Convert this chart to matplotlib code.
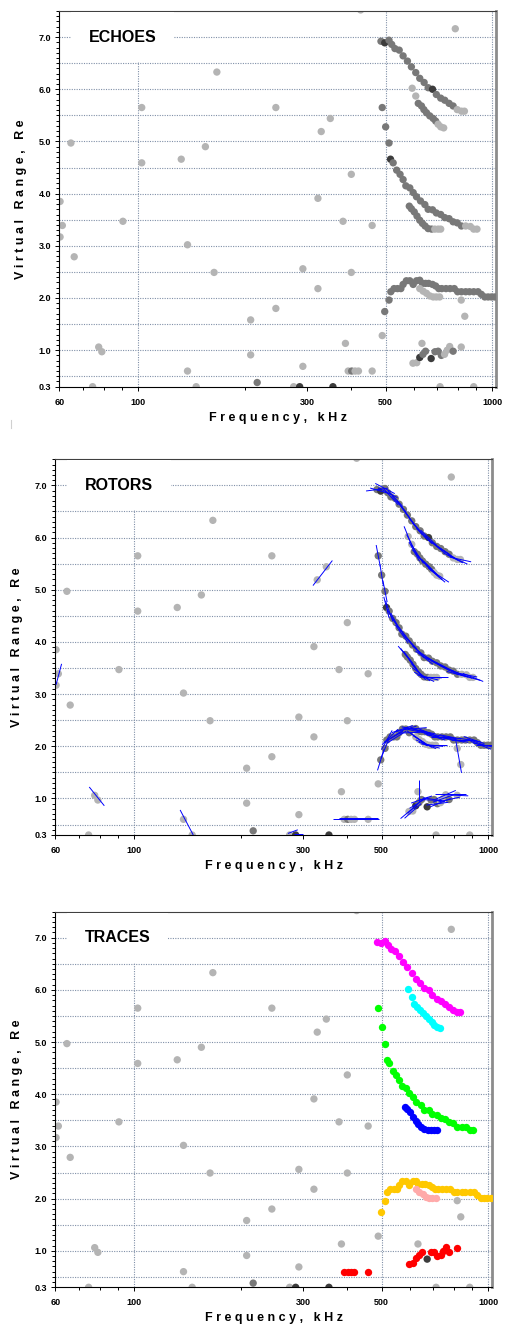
import numpy as np
import matplotlib
matplotlib.use('Agg')
import matplotlib.pyplot as plt
from matplotlib.collections import LineCollection
from matplotlib.lines import Line2D

plt.rcParams['font.family'] = ['Liberation Sans', 'DejaVu Sans']

# --- background echoes (same in every panel): frequency kHz, virtual range Re, amplitude class
bg_freq = [67.4, 102.5, 167, 102.5, 245, 349, 329, 64.7, 155, 132.5, 102.5, 400,
           60.3, 322, 90.7, 379, 458, 61.2, 60.3, 66.1, 138, 164, 292, 400, 322,
           245, 208, 489, 385, 633, 77.5, 79.1, 208, 292, 138, 74.5, 146, 275,
           712, 886, 786, 817, 836, 425, 217, 286, 355, 672]
bg_range = [7.45, 6.70, 6.33, 5.65, 5.65, 5.44, 5.19, 4.97, 4.90, 4.66, 4.59, 4.37,
            3.85, 3.91, 3.47, 3.47, 3.39, 3.39, 3.17, 2.79, 3.02, 2.49, 2.56, 2.49, 2.18,
            1.80, 1.58, 1.28, 1.13, 1.13, 1.06, 0.97, 0.91, 0.69, 0.60, 0.30, 0.30, 0.30,
            0.30, 0.30, 7.16, 1.96, 1.65, 7.52, 0.38, 0.30, 0.30, 0.84]
bg_amp = [0] * 44 + [1, 2, 2, 2]

# --- traced echoes
magenta_f = [485, 497, 511, 520, 531, 546, 560, 576, 591, 608, 624, 642, 659, 678, 695,
             715, 734, 755, 775, 796, 818, 834]
magenta_v = [6.92, 6.89, 6.94, 6.86, 6.78, 6.75, 6.64, 6.54, 6.43, 6.32, 6.21, 6.13, 6.03,
             6.00, 5.90, 5.83, 5.79, 5.73, 5.68, 5.61, 5.58, 5.58]
magenta_amp = [1, 2, 1, 1, 1, 1, 1, 1, 1, 1, 1, 1, 1, 2, 1, 1, 1, 1, 1, 0, 0, 0]

cyan_f = [594, 608, 618, 631, 641, 652, 666, 681, 692, 703, 715, 729]
cyan_v = [6.02, 5.87, 5.73, 5.68, 5.61, 5.55, 5.49, 5.44, 5.39, 5.33, 5.28, 5.26]
cyan_amp = [0, 0, 1, 1, 1, 1, 1, 1, 1, 0, 0, 0]

green_f = [489, 500, 511, 516, 525, 537, 549, 560, 570, 585, 598, 611, 627, 645, 659,
           678, 695, 715, 734, 755, 775, 796, 818, 841, 867, 886, 905]
green_v = [5.65, 5.28, 4.97, 4.66, 4.59, 4.45, 4.37, 4.27, 4.15, 4.11, 4.02, 3.94, 3.86,
           3.79, 3.70, 3.69, 3.63, 3.60, 3.54, 3.52, 3.46, 3.44, 3.38, 3.38, 3.37, 3.32, 3.32]
green_amp = [1, 1, 1, 2, 1, 1, 1, 1, 1, 1, 1, 1, 1, 1, 1, 1, 1, 1, 1, 1, 1, 1, 1, 0, 0, 0, 0]

blue_f = [583, 591, 602, 613, 624, 635, 646, 659, 674, 688, 703, 715]
blue_v = [3.76, 3.71, 3.65, 3.57, 3.49, 3.43, 3.38, 3.33, 3.32, 3.32, 3.32, 3.32]
blue_amp = [1, 1, 1, 1, 1, 1, 1, 1, 1, 0, 0, 0]

orange_f = [497, 511, 517, 528, 540, 552, 560, 572, 585, 598, 611, 624, 635, 648, 661, 678,
            692, 706, 720, 740, 760, 781, 798, 818, 841, 862, 886, 911, 931, 952, 973, 994, 1015]
orange_v = [1.74, 1.96, 2.12, 2.18, 2.18, 2.18, 2.26, 2.33, 2.33, 2.26, 2.33, 2.34, 2.28,
            2.28, 2.28, 2.26, 2.23, 2.18, 2.18, 2.18, 2.18, 2.18, 2.12, 2.12, 2.12, 2.12,
            2.12, 2.12, 2.07, 2.02, 2.02, 2.02, 2.02]
orange_amp = [1] * 33

pink_f = [624, 638, 652, 666, 681, 695, 710]
pink_v = [2.18, 2.13, 2.09, 2.04, 2.02, 2.02, 2.02]
pink_amp = [0, 0, 0, 0, 0, 0, 0]

redl_f = [392, 401, 410, 419, 458]
redl_v = [0.60, 0.60, 0.60, 0.60, 0.60]
redl_amp = [0, 1, 0, 0, 0]

redr_f = [597, 612, 624, 637, 648, 689, 703, 718, 733, 746, 758, 775, 817]
redr_v = [0.75, 0.76, 0.86, 0.92, 0.98, 0.97, 0.98, 0.90, 0.92, 1.00, 1.07, 0.98, 1.06]
redr_amp = [0, 0, 2, 1, 1, 1, 1, 1, 0, 0, 0, 1, 0]

traces = [
    (magenta_f, magenta_v, magenta_amp, '#ff00ff'),
    (cyan_f, cyan_v, cyan_amp, '#00ffff'),
    (green_f, green_v, green_amp, '#00ff00'),
    (blue_f, blue_v, blue_amp, '#0000ff'),
    (orange_f, orange_v, orange_amp, '#ffc800'),
    (pink_f, pink_v, pink_amp, '#ffaaaa'),
    (redl_f, redl_v, redl_amp, '#ff0000'),
    (redr_f, redr_v, redr_amp, '#ff0000'),
]

# --- isolated rotors (start f, start v, end f, end v)
rot_f0 = [60.3, 74.8, 135, 272, 283, 320, 378, 636, 807, 705]
rot_v0 = [3.18, 1.22, 0.78, 0.33, 0.31, 5.08, 0.62, 1.36, 2.16, 1.08]
rot_f1 = [62.5, 82.5, 147, 290, 300, 363, 489, 636, 840, 866]
rot_v1 = [3.58, 0.86, 0.30, 0.40, 0.31, 5.56, 0.62, 0.94, 1.49, 1.08]

shades = ['#b4b4b4', '#787878', '#3c3c3c']
grid_col = '#8090a8'
DOT = 28

fig = plt.figure(figsize=(5.07, 13.27), dpi=100)
W, H = 507.0, 1327.0
panels = [('ECHOES', 59.3, 386.7), ('ROTORS', 55.3, 835.0), ('TRACES', 55.3, 1287.3)]


def setup(ax, title):
    ax.set_xscale('log')
    ax.set_xlim(60, 1024)
    ax.set_ylim(0.3, 7.5)
    for yy in np.arange(0.5, 7.01, 0.5):
        ax.axhline(yy, color=grid_col, lw=0.8, ls=(0, (1, 1.2)), zorder=0)
    for xx in [100, 500, 1000]:
        ax.axvline(xx, color=grid_col, lw=0.8, ls=(0, (1, 1.2)), zorder=0)
    ax.set_xticks([60, 100, 300, 500, 1000])
    ax.set_xticklabels(['60', '100', '300', '500', '1000'])
    ax.set_xticks([70, 80, 90, 200, 400, 600, 700, 800, 900], minor=True)
    ax.set_xticklabels([], minor=True)
    ax.set_yticks([0.3, 1, 2, 3, 4, 5, 6, 7])
    ax.set_yticklabels(['0.3', '1.0', '2.0', '3.0', '4.0', '5.0', '6.0', '7.0'])
    ax.set_yticks(np.arange(0.3, 7.51, 0.1), minor=True)
    ax.tick_params(which='both', direction='out', width=0.7, labelsize=6.5)
    ax.tick_params(which='major', length=3)
    ax.tick_params(which='minor', length=2)
    ax.tick_params(axis='x', pad=5)
    ax.tick_params(axis='y', pad=3)
    for lab in ax.get_xticklabels() + ax.get_yticklabels():
        lab.set_fontweight('bold')
    ax.spines['left'].set_linewidth(0.8)
    ax.spines['bottom'].set_linewidth(0.8)
    ax.spines['top'].set_color('#404040')
    ax.spines['top'].set_linewidth(0.8)
    ax.spines['right'].set_color('#8c8c8c')
    ax.spines['right'].set_linewidth(2)
    ax.text(-38.5 / 436.7, 0.5, 'V i r t u a l   R a n g e ,   R e', transform=ax.transAxes,
            rotation=90, ha='center', va='center', fontsize=9, fontweight='bold')
    ax.text(0.5, -31 / 375.7, 'F r e q u e n c y ,   k H z', transform=ax.transAxes,
            ha='center', va='center', fontsize=9, fontweight='bold')
    ax.text(0.068, 7.0, title, transform=ax.get_yaxis_transform(), ha='left', va='center',
            fontsize=11.5, fontweight='bold', zorder=5,
            bbox=dict(boxstyle='square,pad=1.1', fc='white', ec='none'))


def gray_dots(ax, f, v, amp, z=2):
    ax.scatter(f, v, s=DOT, c=[shades[a] for a in amp], linewidths=0, zorder=z)


def rotors(ax, f, v, half_len=11):
    pts = ax.transData.transform(np.column_stack([f, v]))
    inv = ax.transData.inverted()
    segs = []
    n = len(pts)
    for i in range(n):
        a = pts[max(i - 2, 0)]
        b = pts[min(i + 2, n - 1)]
        d = b - a
        d = d / np.hypot(d[0], d[1])
        segs.append(inv.transform([pts[i] - d * half_len, pts[i] + d * half_len]))
    ax.add_collection(LineCollection(segs, colors='#0000ff', linewidths=0.7, zorder=4))


axes = []
for title, left, bottom in panels:
    ax = fig.add_axes([left / W, (H - bottom) / H, 436.7 / W, 375.7 / H])
    setup(ax, title)
    axes.append(ax)

ax1, ax2, ax3 = axes

# ECHOES
gray_dots(ax1, bg_freq, bg_range, bg_amp)
for f, v, amp, col in traces:
    gray_dots(ax1, f, v, amp, z=3)

# ROTORS
gray_dots(ax2, bg_freq, bg_range, bg_amp)
for f, v, amp, col in traces:
    gray_dots(ax2, f, v, amp, z=3)
for f, v, amp, col in traces:
    rotors(ax2, f, v)
iso = [[(rot_f0[i], rot_v0[i]), (rot_f1[i], rot_v1[i])] for i in range(len(rot_f0))]
ax2.add_collection(LineCollection(iso, colors='#0000ff', linewidths=0.7, zorder=4))

# TRACES
gray_dots(ax3, bg_freq, bg_range, bg_amp)
for f, v, amp, col in traces:
    ax3.scatter(f, v, s=DOT, c=col, linewidths=0, zorder=3)

# small mark left of the panels
fig.add_artist(Line2D([11 / W, 11 / W], [1 - 420 / H, 1 - 428 / H], color='#d0d0d0', lw=0.8))

fig.savefig('out.png', dpi=100)
